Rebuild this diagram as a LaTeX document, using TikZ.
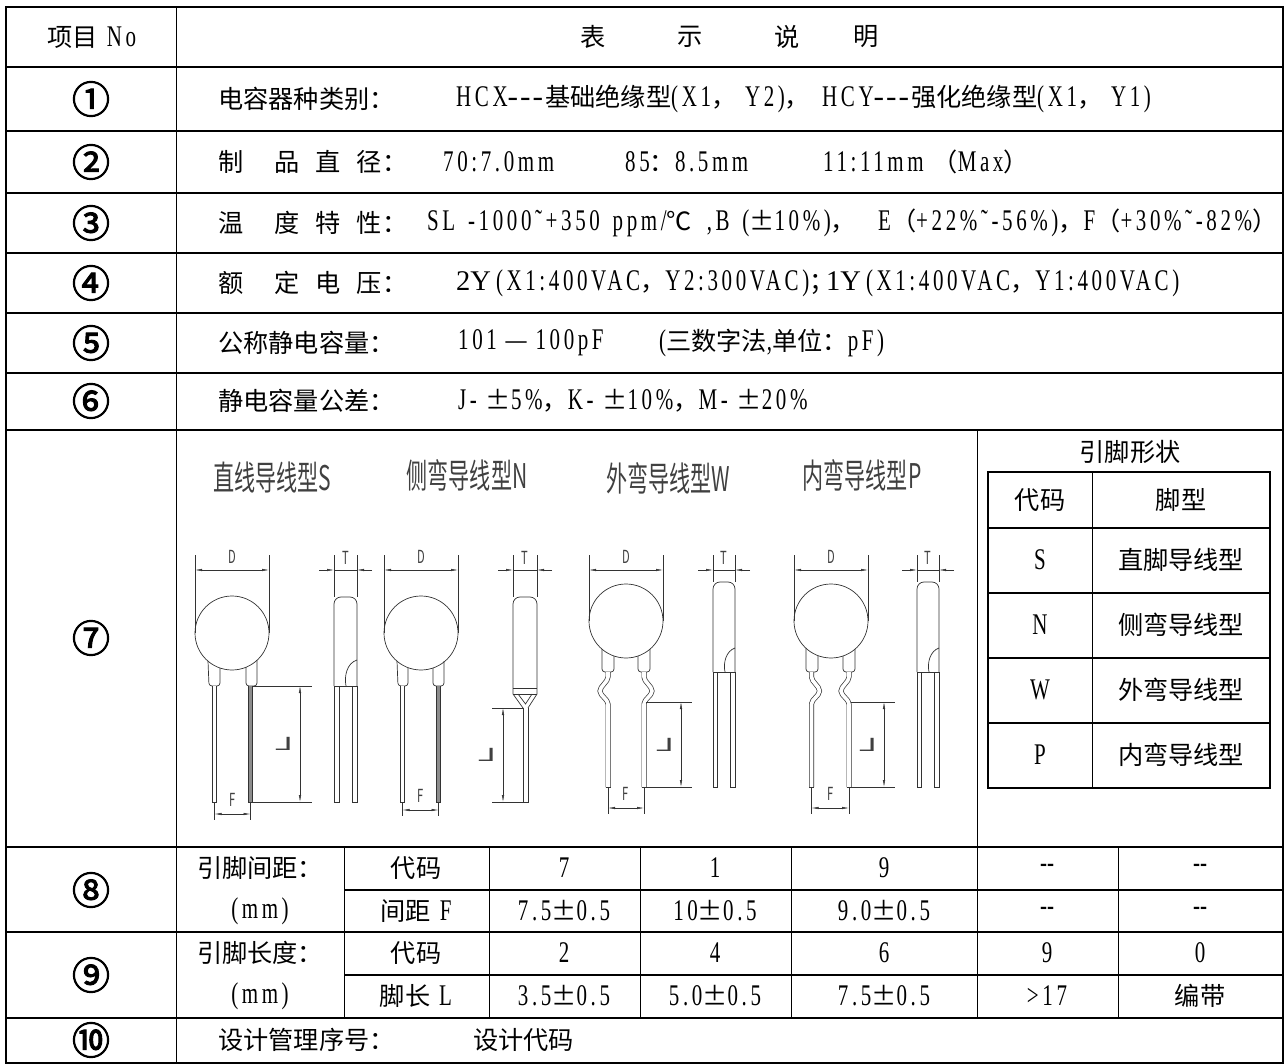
\documentclass[tikz,border=0pt]{standalone}
\usepackage{fontspec}
\usetikzlibrary{arrows.meta}
\setmainfont{Liberation Serif}[FakeStretch=0.7,LetterSpace=12]
\newfontfamily\cjkfont{Noto Sans CJK SC}[Scale=0.84]
\newfontfamily\numfont{Noto Sans CJK SC}[FakeBold=2.5]
\newfontfamily\tnrfont{Liberation Serif}[Scale=0.95]
\newfontfamily\cadfont{Noto Sans CJK SC}[FakeStretch=0.62]
\newcommand\dashes{\scalebox{1.5}[1]{-}\kern2pt\scalebox{1.5}[1]{-}\kern2pt\scalebox{1.5}[1]{-}\kern2pt}

\XeTeXinterchartokenstate=1
\newXeTeXintercharclass\cjkclass
\newcount\cjkcode
\newcommand\cjkrange[2]{\cjkcode=#1\relax
  \loop\XeTeXcharclass\cjkcode=\cjkclass
  \ifnum\cjkcode<#2\relax\advance\cjkcode by 1\repeat}
\cjkrange{"3000}{"303F}
\cjkrange{"4E00}{"9FFF}
\cjkrange{"FF00}{"FFEF}
\cjkrange{"2460}{"2473}
\XeTeXcharclass"2103=\cjkclass
\XeTeXcharclass"00B1=\cjkclass
\XeTeXinterchartoks 0 \cjkclass = {\begingroup\cjkfont}
\XeTeXinterchartoks 4095 \cjkclass = {\begingroup\cjkfont}
\XeTeXinterchartoks \cjkclass 0 = {\endgroup}
\XeTeXinterchartoks \cjkclass 4095 = {\endgroup}

\begin{document}
\begin{tikzpicture}[x=1pt, y=-1pt, font=\fontsize{30}{34}\selectfont,
    every node/.style={inner sep=1pt},
    frame/.style={line width=1.6pt},
    sep/.style={line width=0.9pt},
    numtext/.style={font=\let\cjkfont\numfont\fontsize{38}{40}\selectfont},
    cadline/.style={line width=0.7pt, black!80},
    dimline/.style={line width=0.5pt, black!80},
    dimboth/.style={dimline, {Latex[length=7pt,width=2.4pt]}-{Latex[length=7pt,width=2.4pt]}},
    dimto/.style={dimline, -{Latex[length=7pt,width=2.4pt]}},
    leadwire/.style={cadline, double, double distance=3.6pt, rounded corners=2pt},
    cadtext/.style={text=black!75, font=\let\cjkfont\cadfont\cadfont\fontsize{34}{38}\selectfont},
    dimtext/.style={text=black!75, inner sep=0pt, font=\cadfont\fontsize{18}{20}\selectfont}]
    \useasboundingbox (0,0) rectangle (1286,1064);

    \draw[frame] (6,7) rectangle (1283,1063);
    \foreach \y in {67,131,193,253,313,373,430,847,932,1018}
        \draw[frame] (6,\y) -- (1283,\y);
    \draw[frame] (344,890) -- (1283,890);
    \draw[frame] (344,975) -- (1283,975);
    \draw[sep] (176,7) -- (176,1063);
    \draw[sep] (977,430) -- (977,1018);
    \foreach \x in {344,489,640,791,1118}
        \draw[sep] (\x,847) -- (\x,1018);

    \node (head) at (92,37) {项目 No};
    \node (hbiao) at (593,37) {表};
    \node (hshi) at (690,37) {示};
    \node (hshuo) at (787,37) {说};
    \node (hming) at (866,37) {明};
    \foreach \n/\y [count=\i] in {①/99,②/162,③/223,④/283,⑤/343,⑥/401,⑦/638,⑧/890,⑨/975,⑩/1040}
        \node[numtext] (no\i) at (91,\y) {\n};

    \node[anchor=west] (kind) at (217,99) {电容器种类别：};
    \node[anchor=west] (kinda) at (455,99) {HCX\dashes 基础绝缘型(X1， Y2)，};
    \node[anchor=west] (kindb) at (821,99) {HCY\dashes 强化绝缘型(X1， Y1)};
    \node[anchor=west] (dia) at (217,162) {制\hspace{31pt}品\hspace{16pt}直\hspace{16pt}径：};
    \node[anchor=west] (dia70) at (442,162) {70:7.0mm};
    \node[anchor=west] (dia85) at (624,162) {85：8.5mm};
    \node[anchor=west] (dia11) at (822,162) {11:11mm （Max）};
    \node[anchor=west] (temp) at (217,223) {温\hspace{31pt}度\hspace{16pt}特\hspace{16pt}性：};
    \node[anchor=west] (tempa) at (426,223) {SL\hspace{4pt} -1000˜+350\hspace{4pt} ppm/℃\hspace{6pt} ,B\hspace{4pt} (±10\%)，};
    \node[anchor=west] (tempb) at (877,223) {E（+22\%˜-56\%)，F（+30\%˜-82\%）};
    \node[anchor=west] (volt) at (217,283) {额\hspace{31pt}定\hspace{16pt}电\hspace{16pt}压：};
    \node[anchor=west] (volta) at (455,283) {{\tnrfont 2Y}\,(X1:400VAC，Y2:300VAC)；};
    \node[anchor=west] (voltb) at (825,283) {{\tnrfont 1Y}\,(X1:400VAC，Y1:400VAC)};
    \node[anchor=west] (cap) at (217,343) {公称静电容量：};
    \node[anchor=west] (capa) at (457,343) {101 — 100pF};
    \node[anchor=west] (capb) at (658,343) {(三数字法,单位：pF)};
    \node[anchor=west] (tol) at (217,401) {静电容量公差：};
    \node[anchor=west] (tola) at (457,401) {J- ±5\%，K- ±10\%，M- ±20\%};
    \node[anchor=west] (des) at (217,1040) {设计管理序号：};
    \node[anchor=west] (desa) at (472,1040) {设计代码};

    \node (pitch) at (260,868) {引脚间距：};
    \node (pitchmm) at (260,911) {(mm)};
    \node (len) at (260,953) {引脚长度：};
    \node (lenmm) at (260,996) {(mm)};
    \foreach \x/\a/\b [count=\i] in {416/代码/间距 F, 564/7/7.5±0.5, 715/1/10±0.5, 884/9/9.0±0.5, 1047/-\kern0pt-/-\kern0pt-, 1200/-\kern0pt-/-\kern0pt-}
        {\node (fa\i) at (\x,868) {\a}; \node (fb\i) at (\x,911) {\b};}
    \foreach \x/\a/\b [count=\i] in {416/代码/脚长 L, 564/2/3.5±0.5, 715/4/5.0±0.5, 884/6/7.5±0.5, 1047/9/>17, 1200/0/编带}
        {\node (la\i) at (\x,953) {\a}; \node (lb\i) at (\x,996) {\b};}

    \node (shape) at (1130,452) {引脚形状};
    \draw[frame] (988,472) rectangle (1270,788);
    \foreach \y in {528,593,658,723}
        \draw[frame] (988,\y) -- (1270,\y);
    \draw[sep] (1092,472) -- (1092,788);
    \foreach \y/\c/\t [count=\i] in {500/代码/脚型, 560/S/直脚导线型, 625/N/侧弯导线型, 690/W/外弯导线型, 755/P/内弯导线型}
        {\node (code\i) at (1040,\y) {\c}; \node (form\i) at (1181,\y) {\t};}

    \node[cadtext] (typeS) at (272,477) {直线导线型S};
    \node[cadtext] (typeN) at (467,475) {侧弯导线型N};
    \node[cadtext] (typeW) at (668,478) {外弯导线型W};
    \node[cadtext] (typeP) at (862,475) {内弯导线型P};

    \foreach \a/\b/\c [count=\i] in {195/269/633, 384/458/633, 589/663/621, 794/868/621} {
        \draw[cadline] ({(\a+\b)/2},\c) circle[radius=37];
        \draw[dimline] (\a,555) -- (\a,\c) (\b,555) -- (\b,\c);
        \draw[dimboth] (\a,570) -- (\b,570);
        \node[dimtext] (dd\i) at ({(\a+\b)/2},557) {D};
    }
    \draw[cadline, rounded corners=3pt] (208,661) -- (209,686) -- (220,686) -- (220,668);
    \draw[cadline, rounded corners=3pt] (246,667) -- (246,686) -- (257,686) -- (257,660);
    \draw[cadline, rounded corners=3pt] (397,661) -- (398,686) -- (408,686) -- (408,668);
    \draw[cadline, rounded corners=3pt] (433,668) -- (433,686) -- (444,686) -- (444,661);
    \draw[cadline, rounded corners=3pt] (602,649) -- (602,672) -- (614,672) -- (614,656);
    \draw[cadline, rounded corners=3pt] (638,656) -- (638,672) -- (650,672) -- (650,649);
    \draw[cadline, rounded corners=3pt] (806,648) -- (806,672) -- (818,672) -- (818,656);
    \draw[cadline, rounded corners=3pt] (843,656) -- (843,672) -- (855,672) -- (855,649);

    \draw[leadwire] (214.5,686) -- (214.5,802);
    \draw[leadwire, double=black!45] (250.5,686) -- (250.5,802);
    \draw[leadwire] (402.5,686) -- (402.5,802);
    \draw[leadwire, double=black!45] (438.5,686) -- (438.5,802);
    \draw[leadwire] (608,672) -- (608,679) -- (600,689) -- (600,693) -- (608,702) -- (608,787);
    \draw[leadwire] (644,672) -- (644,679) -- (652,689) -- (652,693) -- (644,702) -- (644,787);
    \draw[leadwire] (811.5,672) -- (811.5,679) -- (819.5,689) -- (819.5,693) -- (811.5,702) -- (811.5,787);
    \draw[leadwire] (849,672) -- (849,679) -- (841,689) -- (841,693) -- (849,702) -- (849,787);
    \foreach \x/\y in {214.5/802, 250.5/802, 402.5/802, 438.5/802, 608/787, 644/787, 811.5/787, 849/787}
        \draw[cadline] (\x-2.5,\y) -- (\x+2.5,\y);

    \foreach \a/\b/\y/\e [count=\i] in {214.5/250.5/802/814, 402.5/438.5/802/810, 608/644/787/808, 811.5/849/787/808} {
        \draw[dimline] (\a,\y) -- (\a,\e+6) (\b,\y) -- (\b,\e+6);
        \draw[dimboth] (\a,\e) -- (\b,\e);
        \node[dimtext] (ff\i) at ({(\a+\b)/2},\e-14) {F};
    }
    \foreach \lx/\top/\bot/\dx/\ex [count=\i] in {253/686/802/300/312, 523/708/802/503/492, 646/702/787/681/692, 851/702/787/884/895} {
        \draw[dimline] (\lx,\top) -- (\ex,\top) (\lx,\bot) -- (\ex,\bot);
        \draw[dimboth] (\dx,\top) -- (\dx,\bot);
        \node[dimtext] (ll\i) at ({\dx-16},{(\top+\bot)/2}) {\scalebox{-3}[1]{L}};
    }

    \draw[cadline, rounded corners=7pt] (334,686) -- (334,597) -- (357,597) -- (357,686);
    \draw[cadline] (334,686) -- (357,686);
    \draw[cadline] (357,660) .. controls (347,663) and (344,676) .. (346,686);
    \draw[cadline] (334,686) rectangle (339,802) (352,686) rectangle (357,802);

    \draw[cadline, rounded corners=7pt] (513,694) -- (513,597) -- (537,597) -- (537,694);
    \draw[cadline] (513,688) -- (537,688) (513,694) -- (537,694);
    \draw[cadline] (513,694) -- (523,708) (518,694) -- (525.5,704) -- (532,694) (537,694) -- (528,708);
    \draw[cadline] (523,708) -- (523,802) -- (528,802) -- (528,708);

    \draw[cadline, rounded corners=7pt] (713,672) -- (713,582) -- (735,582) -- (735,672);
    \draw[cadline] (713,672) -- (735,672);
    \draw[cadline] (735,648) .. controls (726,651) and (723,663) .. (725,672);
    \draw[cadline] (713,672) rectangle (717,787) (730,672) rectangle (735,787);

    \draw[cadline, rounded corners=7pt] (917,672) -- (917,582) -- (939,582) -- (939,672);
    \draw[cadline] (917,672) -- (939,672);
    \draw[cadline] (939,648) .. controls (930,651) and (927,663) .. (929,672);
    \draw[cadline] (917,672) rectangle (921,787) (934,672) rectangle (939,787);

    \foreach \a/\b/\c [count=\i] in {334/357/597, 513/537/597, 713/735/582, 917/939/582} {
        \draw[dimline] (\a,555) -- (\a,\c) (\b,555) -- (\b,\c);
        \draw[dimline] (\a,570) -- (\b,570);
        \draw[dimto] (\a-15,570) -- (\a,570);
        \draw[dimto] (\b+15,570) -- (\b,570);
        \node[dimtext] (tt\i) at ({(\a+\b)/2},558) {T};
    }
\end{tikzpicture}
\end{document}
